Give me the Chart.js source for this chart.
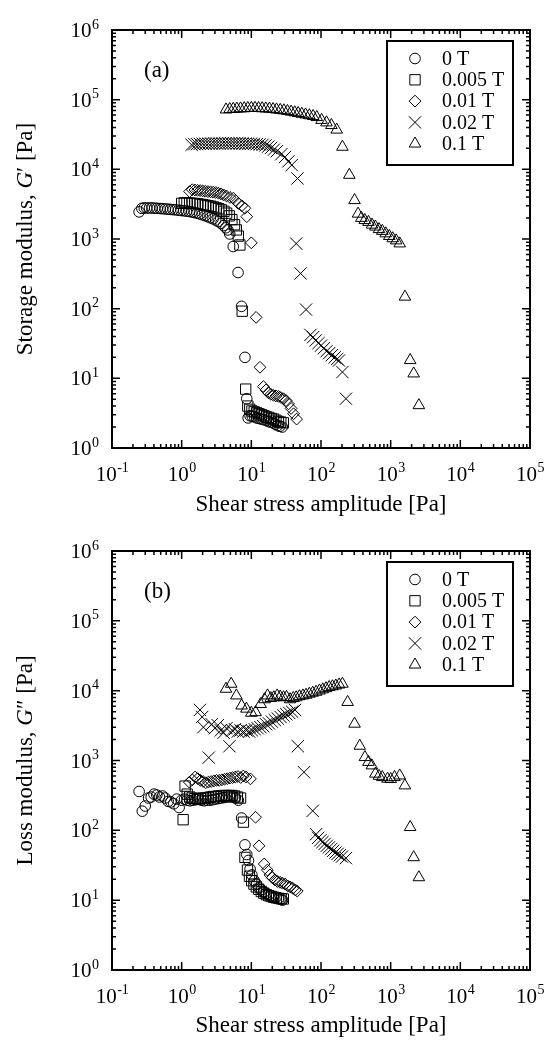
<!DOCTYPE html>
<html>
<head>
<meta charset="utf-8">
<script src="https://cdn.jsdelivr.net/npm/chart.js@4.4.1/dist/chart.umd.min.js"></script>
<style>
html,body{margin:0;padding:0;background:#fff;}
canvas{display:block;}
</style>
</head>
<body>
<canvas id="ca" width="547" height="520"></canvas>
<canvas id="cb" width="547" height="521"></canvas>
<script>
// ---------- data ----------
const seriesLabels = ['0 T', '0.005 T', '0.01 T', '0.02 T', '0.1 T'];
const xTickValues = [0.1, 1, 10, 100, 1000, 10000, 100000];
const xTickLabels = ['10^-1', '10^0', '10^1', '10^2', '10^3', '10^4', '10^5'];
const yTickValues = [1, 10, 100, 1000, 10000, 100000, 1000000];
const yTickLabels = ['10^0', '10^1', '10^2', '10^3', '10^4', '10^5', '10^6'];
const xTitle = 'Shear stress amplitude [Pa]';
const yTitleA = ['Storage modulus, ', 'G', '\u2032 [Pa]'];
const yTitleB = ['Loss modulus, ', 'G', '\u2033 [Pa]'];

// (a) storage modulus G' [Pa] vs shear stress amplitude [Pa]
const storage_0T = [[0.245,2450],[0.268,2750],[0.29,2800],[0.315,2780],[0.345,2790],[0.375,2790],[0.41,2770],[0.445,2760],[0.49,2740],[0.53,2720],[0.58,2700],[0.635,2680],[0.69,2660],[0.755,2640],[0.82,2620],[0.9,2590],[0.98,2560],[1.07,2540],[1.17,2510],[1.28,2480],[1.4,2440],[1.52,2400],[1.66,2350],[1.82,2290],[1.98,2230],[2.17,2160],[2.37,2090],[2.58,2020],[2.82,1950],[3.08,1870],[3.36,1780],[3.67,1680],[4.0,1560],[4.3,1450],[4.6,1350],[4.9,1180],[5.5,780],[6.45,330],[7.25,108],[8.1,20],[8.6,5.1],[9.0,2.7],[9.6,2.9],[10.3,2.85],[11.1,2.8],[11.9,2.7],[12.9,2.65],[13.9,2.6],[15,2.55],[16.2,2.5],[17.5,2.4],[18.9,2.35],[20.4,2.3],[22,2.2],[23.8,2.1],[25.7,2.05],[27.8,2.0]];
const storage_0005T = [[1.0,3250],[1.09,3300],[1.19,3300],[1.3,3280],[1.42,3250],[1.55,3230],[1.69,3200],[1.85,3150],[2.02,3100],[2.2,3050],[2.4,3000],[2.62,2950],[2.86,2880],[3.12,2800],[3.4,2720],[3.71,2620],[4.05,2500],[4.42,2350],[4.82,2150],[5.26,1900],[5.74,1600],[6.1,1350],[6.5,1100],[6.85,820],[7.4,92],[8.3,7.0],[8.9,4.0],[9.5,3.6],[10.2,3.4],[11.0,3.3],[11.9,3.2],[12.9,3.1],[14.0,3.0],[15.2,2.9],[16.4,2.8],[17.8,2.75],[19.3,2.65],[20.9,2.6],[22.6,2.5],[24.5,2.4],[26.5,2.35],[28.8,2.3]];
const storage_001T = [[1.3,4800],[1.42,5100],[1.55,5050],[1.69,5000],[1.84,4950],[2.0,4900],[2.18,4850],[2.38,4800],[2.6,4750],[2.83,4700],[3.09,4650],[3.37,4550],[3.67,4450],[4.0,4300],[4.4,4150],[4.95,3950],[5.5,3850],[6.0,3550],[6.5,3240],[7.3,3000],[8.1,2760],[8.6,2090],[10.0,880],[11.7,75],[13.3,14.4],[14.9,7.6],[16.2,6.8],[17.6,6.2],[19.1,5.9],[20.8,5.7],[22.6,5.6],[24.6,5.5],[26.7,5.3],[29,5.1],[31.5,4.8],[34.2,4.3],[37.2,3.7],[40.4,3.1],[44.7,2.6]];
const storage_002T = [[1.39,22500],[1.52,23000],[1.66,23000],[1.82,23200],[2.0,23300],[2.2,23300],[2.42,23400],[2.66,23400],[2.92,23500],[3.2,23500],[3.52,23500],[3.87,23600],[4.25,23600],[4.67,23600],[5.13,23600],[5.64,23600],[6.2,23600],[6.8,23500],[7.5,23500],[8.2,23400],[9.0,23400],[9.9,23300],[10.9,23200],[12.0,23000],[13.2,22800],[14.5,22500],[15.9,22000],[17.5,21200],[19.2,20300],[21.1,19200],[23.2,18200],[27,16500],[30.4,15000],[34,13000],[38,11500],[46,7400],[44,860],[51,320],[61,97],[70.5,42],[77,39],[84,35],[92,32],[100,29.5],[110,27],[120,24.5],[131,23],[143,21.5],[157,20],[171,19],[181,18],[203,12.3],[228,5.1]];
const storage_01T = [[4.33,72000],[4.9,73000],[5.5,73500],[6.2,74000],[7.0,74500],[7.9,75000],[8.9,75500],[10,76000],[11.3,76000],[12.7,75500],[14.3,75000],[16.1,74500],[18.2,74000],[20.5,73000],[23,72000],[26,71000],[29.3,70000],[33,68500],[37.2,67000],[42,65500],[47,64000],[53,62500],[60,61000],[68,59500],[77,58000],[87,56000],[102,51000],[120,47000],[141,43000],[168,37000],[203,21000],[255,8300],[303,3600],[340,2300],[380,2000],[425,1860],[480,1750],[540,1600],[603,1500],[680,1380],[759,1300],[850,1200],[955,1100],[1070,1020],[1200,950],[1349,860],[1603,148],[1905,18.2],[2140,11.7],[2540,4.1]];

// (b) loss modulus G'' [Pa] vs shear stress amplitude [Pa]
const loss_0T = [[0.245,360],[0.272,188],[0.30,223],[0.335,290],[0.365,300],[0.40,330],[0.44,320],[0.48,300],[0.53,310],[0.58,290],[0.64,260],[0.70,255],[0.77,240],[0.85,280],[0.92,212],[1.0,270],[1.1,280],[1.2,270],[1.32,265],[1.45,270],[1.6,275],[1.75,280],[1.92,270],[2.1,265],[2.3,270],[2.55,270],[2.8,275],[3.05,280],[3.35,285],[3.7,290],[4.05,295],[4.45,300],[4.9,300],[5.4,300],[5.9,290],[6.5,270],[7.25,150],[8.1,62],[8.6,45],[9.1,37],[9.6,28],[10.2,23],[11,19],[11.9,17],[12.9,15],[14,14],[15.2,13],[16.4,12.5],[17.8,12],[19.3,11.5],[20.9,11],[22.6,11],[24.5,10.5],[26.5,10.3],[28,10]];
const loss_0005T = [[1.05,142],[1.12,430],[1.2,330],[1.3,300],[1.42,290],[1.55,285],[1.69,280],[1.85,285],[2.02,290],[2.2,290],[2.4,295],[2.62,300],[2.86,305],[3.12,305],[3.4,310],[3.71,310],[4.05,315],[4.42,315],[4.82,315],[5.26,315],[5.74,310],[6.3,300],[7.0,290],[7.7,131],[8.1,41],[8.8,27],[9.4,22],[10.1,19],[10.9,17],[11.8,15.5],[12.8,14.3],[13.9,13.3],[15.1,12.6],[16.4,12],[17.8,11.6],[19.3,11.3],[21,11],[22.8,10.8],[24.8,10.6],[26.8,10.5],[28.8,10.4]];
const loss_001T = [[1.29,490],[1.42,530],[1.56,580],[1.7,550],[1.86,520],[2.03,500],[2.22,480],[2.42,490],[2.65,500],[2.9,510],[3.17,520],[3.46,520],[3.78,530],[4.13,540],[4.51,550],[4.93,560],[5.39,570],[5.89,580],[6.43,590],[7.03,570],[7.68,600],[8.4,580],[9.7,546],[11.5,154],[12.9,60],[15.3,33],[17,27],[18.5,23],[20,21],[21.8,19.5],[23.7,18.5],[25.8,18],[28,17.5],[30.5,17],[33.2,16],[36.1,15.5],[39.3,14.8],[42.8,14],[45.6,13.5]];
const loss_002T = [[1.83,5300],[1.97,4200],[2.05,3000],[2.45,1100],[2.7,3300],[3.0,2900],[3.3,3200],[3.65,2700],[4.0,2500],[4.4,2900],[4.85,1600],[5.3,2700],[5.8,2800],[6.4,2600],[7.0,2700],[7.7,2600],[8.5,2700],[9.3,2600],[10.2,2700],[11.2,2800],[12.3,2900],[13.5,3000],[14.8,3100],[16.3,3300],[17.9,3400],[19.7,3600],[21.7,3800],[23.9,4000],[26.3,4200],[28.9,4400],[31.8,4600],[35,4800],[38.5,5000],[42.4,5300],[46.6,1600],[57,680],[76,190],[85,88],[91,78],[98,72],[105,68],[113,64],[121,60],[130,57],[140,54],[150,51],[161,48],[173,46],[186,44],[200,42],[228,40]];
const loss_01T = [[4.33,10600],[5.14,12500],[6.1,8500],[7.25,6100],[8.5,5500],[10,4800],[11.5,4900],[13.6,6400],[15.5,7500],[17.1,8500],[19,7800],[21,8000],[23.5,8500],[26,8200],[29,8000],[32,8100],[36,7500],[40,7800],[44,8000],[49,8300],[55,8500],[61,8700],[68,9000],[76,9300],[85,9600],[95,10000],[106,10400],[118,10800],[131,11200],[146,11500],[163,11800],[182,12200],[203,12500],[241,6860],[303,3350],[360,1620],[427,1114],[480,950],[537,847],[603,645],[680,600],[759,576],[902,546],[1000,540],[1135,576],[1349,608],[1600,438],[1905,111],[2140,41],[2540,21.2]];

// ---------- styling ----------
const FONT = '"Liberation Serif", "Times New Roman", serif';
const markerStyles = [
  {pointStyle: 'circle', radius: 5.3},
  {pointStyle: 'rect', radius: 7.3},
  {pointStyle: 'rectRot', radius: 5.9},
  {pointStyle: 'crossRot', radius: 8.7},
  {pointStyle: 'triangle', radius: 6.7}
];

function makeDatasets(seriesList) {
  return seriesList.map((s, i) => ({
    label: seriesLabels[i],
    data: s.map(([x, y]) => ({x, y})),
    pointStyle: markerStyles[i].pointStyle,
    pointRadius: markerStyles[i].radius,
    pointHoverRadius: markerStyles[i].radius,
    pointBorderColor: '#000',
    pointBackgroundColor: 'rgba(0,0,0,0)',
    pointBorderWidth: 1,
    showLine: false
  }));
}

// draws "10" with a raised exponent; align: 'center' or 'right'
function drawPowerLabel(ctx, label, x, baseline, align) {
  const parts = label.split('^');
  const baseFont = '21px ' + FONT, expFont = '14px ' + FONT;
  ctx.font = baseFont;
  const wb = ctx.measureText(parts[0]).width;
  ctx.font = expFont;
  const we = ctx.measureText(parts[1]).width;
  const total = wb + we;
  const x0 = align === 'right' ? x - total : x - total / 2;
  ctx.textAlign = 'left';
  ctx.textBaseline = 'alphabetic';
  ctx.font = baseFont;
  ctx.fillText(parts[0], x0, baseline);
  ctx.font = expFont;
  ctx.fillText(parts[1], x0 + wb + 0.5, baseline - 8.5);
}

const framePlugin = {
  id: 'frameTicks',
  afterDraw(chart, args, opts) {
    const {ctx, chartArea: a} = chart;
    const xs = chart.scales.x, ys = chart.scales.y;
    ctx.save();
    ctx.strokeStyle = '#000';
    ctx.fillStyle = '#000';
    // inward ticks on all four sides
    ctx.lineWidth = 1.5;
    for (let e = -1; e < 5; e++) {
      for (let m = 1; m <= 9; m++) {
        const px = xs.getPixelForValue(m * Math.pow(10, e));
        const len = m === 1 ? 8 : 4;
        ctx.beginPath();
        ctx.moveTo(px, a.bottom); ctx.lineTo(px, a.bottom - len);
        ctx.moveTo(px, a.top); ctx.lineTo(px, a.top + len);
        ctx.stroke();
      }
    }
    for (let e = 0; e < 6; e++) {
      for (let m = 1; m <= 9; m++) {
        const py = ys.getPixelForValue(m * Math.pow(10, e));
        const len = m === 1 ? 8 : 4;
        ctx.beginPath();
        ctx.moveTo(a.left, py); ctx.lineTo(a.left + len, py);
        ctx.moveTo(a.right, py); ctx.lineTo(a.right - len, py);
        ctx.stroke();
      }
    }
    // frame
    ctx.lineWidth = 2;
    ctx.strokeRect(a.left, a.top, a.right - a.left, a.bottom - a.top);
    // tick labels from the scales' tick values
    xs.ticks.forEach((t, i) => {
      drawPowerLabel(ctx, xTickLabels[i], xs.getPixelForValue(t.value), a.bottom + 32.5, 'center');
    });
    ys.ticks.forEach((t, i) => {
      drawPowerLabel(ctx, yTickLabels[i], a.left - 13.5, ys.getPixelForValue(t.value) + 7, 'right');
    });
    // y-axis title with italic G
    const parts = opts.yTitle;
    const fonts = ['23px ' + FONT, 'italic 23px ' + FONT, '23px ' + FONT];
    let total = 0;
    const widths = parts.map((p, i) => { ctx.font = fonts[i]; const w = ctx.measureText(p).width; total += w; return w; });
    ctx.save();
    ctx.translate(26, (a.top + a.bottom) / 2);
    ctx.rotate(-Math.PI / 2);
    ctx.textAlign = 'left';
    ctx.textBaseline = 'middle';
    let cx = -total / 2;
    parts.forEach((p, i) => { ctx.font = fonts[i]; ctx.fillText(p, cx, 0); cx += widths[i]; });
    ctx.restore();
    // panel label
    ctx.font = '23px ' + FONT;
    ctx.textAlign = 'left';
    ctx.textBaseline = 'middle';
    ctx.fillText(opts.panel, a.left + 32, a.top + 41);
    // legend box
    const bw = 126, bh = 124;
    const bx = a.right - 17 - bw, by = a.top + 11;
    ctx.lineWidth = 2;
    ctx.strokeRect(bx, by, bw, bh);
    chart.data.datasets.forEach((ds, i) => {
      const cy = by + 17.5 + i * 21.3;
      ctx.lineWidth = 1;
      ctx.strokeStyle = '#000';
      ctx.fillStyle = 'rgba(0,0,0,0)';
      Chart.helpers.drawPoint(ctx, {pointStyle: ds.pointStyle, radius: ds.pointRadius, rotation: 0, borderWidth: 1}, bx + 28, cy);
      ctx.fillStyle = '#000';
      ctx.font = '20px ' + FONT;
      ctx.textAlign = 'left';
      ctx.textBaseline = 'middle';
      ctx.fillText(ds.label, bx + 55, cy + 1);
    });
    ctx.restore();
  }
};

function makeChart(canvasId, seriesList, yTitle, panel, topPad, xHeight) {
  return new Chart(document.getElementById(canvasId), {
    type: 'scatter',
    data: {datasets: makeDatasets(seriesList)},
    options: {
      responsive: false,
      animation: false,
      devicePixelRatio: 1,
      layout: {padding: {top: topPad, right: 17, left: 0, bottom: 0}},
      plugins: {
        legend: {display: false},
        tooltip: {enabled: false},
        frameTicks: {panel: panel, yTitle: yTitle}
      },
      scales: {
        x: {
          type: 'logarithmic',
          position: 'bottom',
          min: 0.1, max: 100000,
          grid: {display: false, drawTicks: false},
          border: {display: false},
          afterBuildTicks: (s) => { s.ticks = xTickValues.map(v => ({value: v})); },
          afterFit: (s) => { s.height = xHeight; },
          ticks: {display: false, autoSkip: false, maxRotation: 0},
          title: {
            display: true, text: xTitle,
            color: '#000', font: {family: FONT, size: 23},
            padding: {top: 0, bottom: 1}
          }
        },
        y: {
          type: 'logarithmic',
          position: 'left',
          min: 1, max: 1000000,
          grid: {display: false, drawTicks: false},
          border: {display: false},
          afterBuildTicks: (s) => { s.ticks = yTickValues.map(v => ({value: v})); },
          afterFit: (s) => { s.width = 112; },
          ticks: {display: false, autoSkip: false},
          title: {display: false}
        }
      }
    },
    plugins: [framePlugin]
  });
}

makeChart('ca', [storage_0T, storage_0005T, storage_001T, storage_002T, storage_01T], yTitleA, '(a)', 30, 72);
makeChart('cb', [loss_0T, loss_0005T, loss_001T, loss_002T, loss_01T], yTitleB, '(b)', 31, 71);
</script>
</body>
</html>
